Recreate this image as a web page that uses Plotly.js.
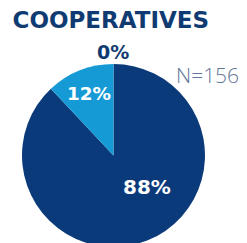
<!DOCTYPE html>
<html><head><meta charset="utf-8">
<script src="https://cdn.plot.ly/plotly-3.0.1.min.js"></script>
<style>html,body{margin:0;padding:0;overflow:hidden;background:#fff;}#chart{width:247px;height:248px;}</style>
</head><body><div id="chart"></div>
<script>
const chartTitle = 'COOPERATIVES';
const sampleNote = 'N=156';
const categories = ['No', 'Yes', 'Don\'t know'];
const values = [88, 12, 0];
const colors = ['#0b3a7b', '#159ad6', '#9fb3cc'];

const W = 247, H = 248;
const zeroIdx = values.indexOf(0);
const boldFont = 'DejaVu Sans';
const total = values.reduce((a, b) => a + b, 0);
const pct = v => Math.round(100 * v / total) + '%';

const trace = {
  type: 'pie',
  labels: categories,
  values: values,
  sort: false,
  direction: 'clockwise',
  rotation: 0,
  marker: {colors: colors, line: {width: 0}},
  textinfo: 'percent',
  texttemplate: values.map((v, i) => (v > 0 && i !== 0) ? '%{percent:.0%}' : ''),
  textposition: 'inside',
  insidetextorientation: 'horizontal',
  insidetextfont: {family: boldFont, size: 20, color: '#ffffff', weight: 700},
  domain: {x: [22/W, 205/W], y: [1 - 247/H, 1 - 64/H]},
  hoverinfo: 'none',
  showlegend: false
};

const layout = {
  width: W, height: H,
  margin: {l: 0, r: 0, t: 0, b: 0},
  paper_bgcolor: '#ffffff',
  title: {
    text: '<b>' + chartTitle + '</b>',
    x: 12.5/W, xanchor: 'left', xref: 'paper',
    y: 1 - 20/H, yanchor: 'middle', yref: 'container',
    font: {family: boldFont, size: 23, color: '#0f3b72', weight: 700}
  },
  annotations: [
    {text: sampleNote, x: 174/W, xanchor: 'left', y: 1 - 74.5/H, yanchor: 'middle',
     xref: 'paper', yref: 'paper', showarrow: false,
     font: {family: 'Open Sans', size: 21, color: '#5f7697', weight: 300}},
    {text: '<b>' + pct(values[zeroIdx]) + '</b>', x: 112.5/W, xanchor: 'center', y: 1 - 52/H, yanchor: 'middle',
     xref: 'paper', yref: 'paper', showarrow: false,
     font: {family: boldFont, size: 19, color: '#0f3b72'}},
    {text: '<b>' + pct(values[0]) + '</b>', x: 147/W, xanchor: 'center', y: 1 - 187/H, yanchor: 'middle',
     xref: 'paper', yref: 'paper', showarrow: false,
     font: {family: boldFont, size: 20, color: '#ffffff'}}
  ]
};

Plotly.newPlot('chart', [trace], layout, {displayModeBar: false, staticPlot: true});
</script></body></html>
